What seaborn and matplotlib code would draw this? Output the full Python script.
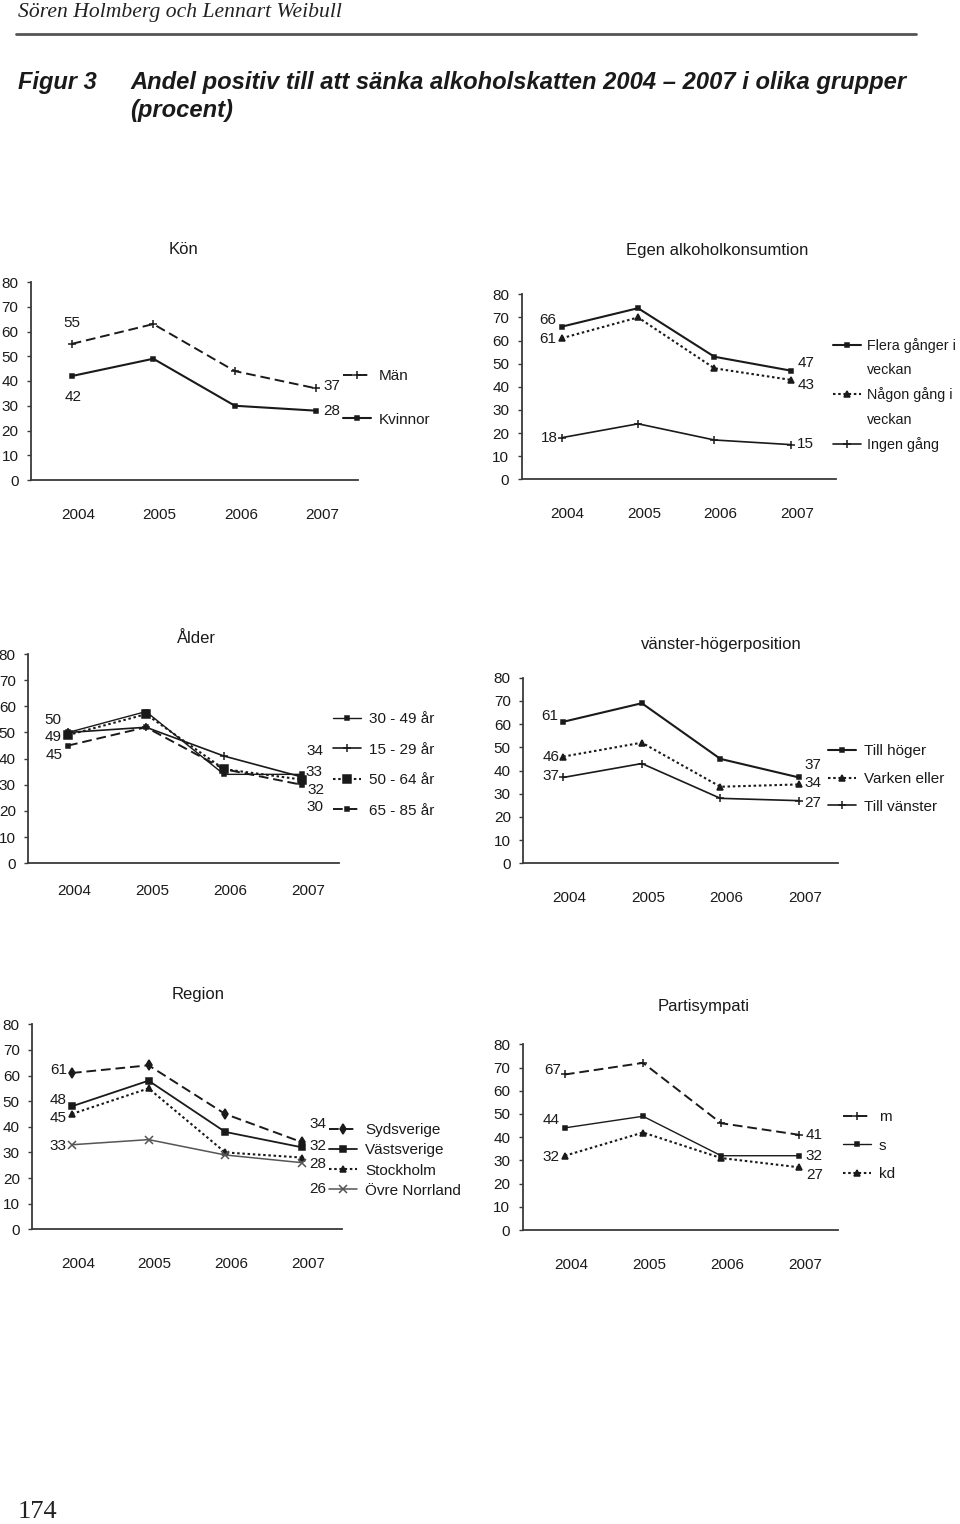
import numpy as np
import pandas as pd
import matplotlib
matplotlib.use("Agg")
import matplotlib.pyplot as plt
import matplotlib.transforms as mtransforms
from matplotlib.lines import Line2D
import seaborn as sns

# ---- data -------------------------------------------------------------
years = ["2004", "2005", "2006", "2007"]

kon_labels = ["Män", "Kvinnor"]
kon_man = [55, 63, 44, 37]
kon_kvinnor = [42, 49, 30, 28]

alk_labels = ["Flera gånger i veckan", "Någon gång i veckan", "Ingen gång"]
alk_flera = [66, 74, 53, 47]
alk_nagon = [61, 70, 48, 43]
alk_ingen = [18, 24, 17, 15]

alder_labels = ["30 - 49 år", "15 - 29 år", "50 - 64 år", "65 - 85 år"]
alder_30_49 = [50, 58, 34, 34]
alder_15_29 = [50, 52, 41, 33]
alder_50_64 = [49, 57, 36, 32]
alder_65_85 = [45, 52, 36, 30]

vh_labels = ["Till höger", "Varken eller", "Till vänster"]
vh_hoger = [61, 69, 45, 37]
vh_varken = [46, 52, 33, 34]
vh_vanster = [37, 43, 28, 27]

region_labels = ["Sydsverige", "Västsverige", "Stockholm", "Övre Norrland"]
reg_syd = [61, 64, 45, 34]
reg_vast = [48, 58, 38, 32]
reg_sthlm = [45, 55, 30, 28]
reg_norr = [33, 35, 29, 26]

parti_labels = ["m", "s", "kd"]
parti_m = [67, 72, 46, 41]
parti_s = [44, 49, 32, 32]
parti_kd = [32, 42, 31, 27]

# ---- styles -----------------------------------------------------------
W, H = 960, 1524
INK = "#1a1a1a"
DASH = (0, (5, 2.5))
DOT = (0, (1.2, 1.3))

sq = dict(ls="-", marker="s", ms=3.5, lw=1.5)
plus = dict(ls="-", marker="+", ms=6, lw=1.2)
dash_plus = dict(ls=DASH, marker="+", ms=6, lw=1.4)
dot_tri = dict(ls=DOT, marker="^", ms=4, lw=1.5)
dash_sq = dict(ls=DASH, marker="s", ms=3, lw=1.4)
dot_bigsq = dict(ls=DOT, marker="s", ms=6, lw=1.5)
thin_sq = dict(ls="-", marker="s", ms=3.5, lw=1.0)
big_sq = dict(ls="-", marker="s", ms=5, lw=1.3)
dash_dia = dict(ls=DASH, marker="d", ms=5, lw=1.4)
gray_x = dict(ls="-", marker="x", ms=6, lw=1.1, color="#555555")


def rect(left, right, y0, y80):
    return [left / W, 1 - y0 / H, (right - left) / W, (y0 - y80) / H]


def plot_series(ax, values, label, style):
    st = dict(style)
    color = st.pop("color", INK)
    df = pd.DataFrame({"x": np.arange(len(years)), "y": values})
    sns.lineplot(data=df, x="x", y="y", ax=ax, color=color,
                 linestyle=st["ls"], linewidth=st["lw"], marker=st["marker"],
                 markersize=st["ms"], markeredgecolor=color,
                 markerfacecolor=color, markeredgewidth=1.1,
                 label=label, legend=False)


def style_axes(ax, xlim, tickpad):
    ax.set_xlim(*xlim)
    ax.set_ylim(0, 80)
    ax.set_yticks(range(0, 81, 10))
    ax.set_xticks(range(len(years)))
    ax.set_xticklabels(years)
    ax.set_xlabel("")
    ax.set_ylabel("")
    for s in ["top", "right"]:
        ax.spines[s].set_visible(False)
    for s in ["left", "bottom"]:
        ax.spines[s].set_color("#3a3a3a")
        ax.spines[s].set_linewidth(1.3)
    ax.tick_params(axis="y", length=3, width=1, color="#3a3a3a", pad=6,
                   labelsize=11, labelcolor=INK, left=True)
    ax.tick_params(axis="x", length=0, pad=tickpad, labelsize=11,
                   labelcolor=INK)
    shift = mtransforms.ScaledTranslation(6 / 100, 0, fig.dpi_scale_trans)
    for lab in ax.get_xticklabels():
        lab.set_transform(lab.get_transform() + shift)
    ax.grid(False)
    ax.set_facecolor("white")


def add_value_labels(ax, series, offsets):
    for values, (left, right) in zip(series, offsets):
        for idx, off in ((0, left), (len(values) - 1, right)):
            if off is None:
                continue
            ax.annotate(str(values[idx]), xy=(idx, values[idx]), xytext=off,
                        textcoords="offset pixels", ha="center", va="center",
                        fontsize=11, color=INK)


def add_legend(ax, handles, labels, x, y, spacing, size=11, textpad=0.5):
    ax.legend(handles=handles, labels=labels, loc="center left",
              bbox_to_anchor=(x / W, 1 - y / H), bbox_transform=fig.transFigure,
              frameon=False, fontsize=size, handlelength=1.85 * 11 / size,
              handletextpad=textpad, labelspacing=spacing, borderpad=0,
              borderaxespad=0, numpoints=1, labelcolor=INK)


sns.set_theme(style="white")
plt.rcParams["font.family"] = ["Liberation Sans", "DejaVu Sans"]

fig = plt.figure(figsize=(W / 100, H / 100), dpi=100)
fig.patch.set_facecolor("white")

# ---- page header ------------------------------------------------------
serif = ["Liberation Serif", "DejaVu Serif"]
narrow = ["Liberation Sans Narrow", "Liberation Sans", "DejaVu Sans"]
fig.text(18 / W, 1 - 13 / H, "Sören Holmberg och Lennart Weibull",
         family=serif, style="italic", fontsize=15.6, va="center", color="#222222")
fig.add_artist(Line2D([16 / W, 916 / W], [1 - 34 / H, 1 - 34 / H],
                      color="#555555", lw=2))
fig.text(18 / W, 1 - 82 / H, "Figur 3", family=narrow, style="italic",
         weight="bold", fontsize=17, va="center", color=INK)
fig.text(130 / W, 1 - 82 / H,
         "Andel positiv till att sänka alkoholskatten 2004 – 2007 i olika grupper",
         family=narrow, style="italic", weight="bold", fontsize=17.1,
         va="center", color=INK)
fig.text(130 / W, 1 - 110 / H, "(procent)", family=narrow, style="italic",
         weight="bold", fontsize=17.1, va="center", color=INK)
fig.text(18 / W, 1 - 1512 / H, "174", family=serif, fontsize=19,
         va="center", color="#222222")

# ---- Kön --------------------------------------------------------------
ax = fig.add_axes(rect(31, 358, 480, 282))
kon_series = [kon_man, kon_kvinnor]
for vals, lab, st in zip(kon_series, kon_labels, [dash_plus, sq]):
    plot_series(ax, vals, lab, st)
style_axes(ax, (-0.5, 3.51), 20)
add_value_labels(ax, kon_series, [((0, 21), (15, 2)), ((1, -21), (15, 0))])
h, l = ax.get_legend_handles_labels()
add_legend(ax, h, l, 343, 398, 1.93)
fig.text(184 / W, 1 - 250 / H, "Kön", ha="center", va="center",
         fontsize=12, color=INK)

# ---- Egen alkoholkonsumtion --------------------------------------------
ax = fig.add_axes(rect(521.7, 836, 479.3, 294.3))
alk_series = [alk_flera, alk_nagon, alk_ingen]
for vals, lab, st in zip(alk_series, alk_labels, [sq, dot_tri, plus]):
    plot_series(ax, vals, lab, st)
style_axes(ax, (-0.524, 3.593), 20)
add_value_labels(ax, alk_series, [((-14, 7), (15, 8)), ((-14, -1), (15, -5)),
                                  ((-12, 0), (15, 1))])
h, l = ax.get_legend_handles_labels()
blank = Line2D([], [], color="none")
parts = [lab.rsplit(" ", 1) for lab in l[:2]]
add_legend(ax, [h[0], blank, h[1], blank, h[2]],
           [parts[0][0], parts[0][1], parts[1][0], parts[1][1], l[2]],
           833, 395, 0.72, size=10.3, textpad=0.4)
fig.text(717 / W, 1 - 250 / H, "Egen alkoholkonsumtion", ha="center",
         va="center", fontsize=12, color=INK)

# ---- Ålder ------------------------------------------------------------
ax = fig.add_axes(rect(28.3, 339.3, 863.3, 654))
alder_series = [alder_30_49, alder_15_29, alder_50_64, alder_65_85]
for vals, lab, st in zip(alder_series, alder_labels,
                         [thin_sq, plus, dot_bigsq, dash_sq]):
    plot_series(ax, vals, lab, st)
style_axes(ax, (-0.51, 3.48), 15)
add_value_labels(ax, alder_series, [((-15, 12), (13, 23)), (None, (12, 5)),
                                    ((-15, -2), (14, -10)),
                                    ((-14, -9), (13, -22))])
h, l = ax.get_legend_handles_labels()
add_legend(ax, h, l, 333, 765, 1.08)
fig.text(196 / W, 1 - 639 / H, "Ålder", ha="center", va="center",
         fontsize=12, color=INK)

# ---- vänster-högerposition --------------------------------------------
ax = fig.add_axes(rect(523.3, 838.3, 863.3, 677.7))
vh_series = [vh_hoger, vh_varken, vh_vanster]
for vals, lab, st in zip(vh_series, vh_labels, [sq, dot_tri, plus]):
    plot_series(ax, vals, lab, st)
style_axes(ax, (-0.508, 3.5), 20)
add_value_labels(ax, vh_series, [((-13, 6), (14, 12)), ((-12, 0), (14, 1)),
                                 ((-12, 1), (14, -2))])
h, l = ax.get_legend_handles_labels()
add_legend(ax, h, l, 828, 779, 0.89)
fig.text(721 / W, 1 - 644 / H, "vänster-högerposition", ha="center",
         va="center", fontsize=12, color=INK)

# ---- Region -----------------------------------------------------------
ax = fig.add_axes(rect(32.3, 341.7, 1229.3, 1024.3))
reg_series = [reg_syd, reg_vast, reg_sthlm, reg_norr]
for vals, lab, st in zip(reg_series, region_labels,
                         [dash_dia, big_sq, dot_tri, gray_x]):
    plot_series(ax, vals, lab, st)
style_axes(ax, (-0.517, 3.52), 20)
add_value_labels(ax, reg_series, [((-13, 3), (16, 18)), ((-14, 6), (16, 1)),
                                  ((-14, -4), (16, -6)),
                                  ((-14, -1), (16, -26))])
h, l = ax.get_legend_handles_labels()
add_legend(ax, h, l, 329, 1160.5, 0.4)
fig.text(198 / W, 1 - 994 / H, "Region", ha="center", va="center",
         fontsize=12, color=INK)

# ---- Partisympati -----------------------------------------------------
ax = fig.add_axes(rect(522.7, 838.3, 1230, 1044.3))
parti_series = [parti_m, parti_s, parti_kd]
for vals, lab, st in zip(parti_series, parti_labels,
                         [dash_plus, thin_sq, dot_tri]):
    plot_series(ax, vals, lab, st)
style_axes(ax, (-0.54, 3.5), 20)
add_value_labels(ax, parti_series, [((-12, 4), (15, 0)), ((-14, 8), (15, 0)),
                                    ((-14, -1), (15, -8))])
h, l = ax.get_legend_handles_labels()
add_legend(ax, h, l, 843, 1145.5, 0.95)
fig.text(704 / W, 1 - 1007 / H, "Partisympati", ha="center", va="center",
         fontsize=12, color=INK)

fig.savefig("out.png", dpi=100, facecolor="white")
